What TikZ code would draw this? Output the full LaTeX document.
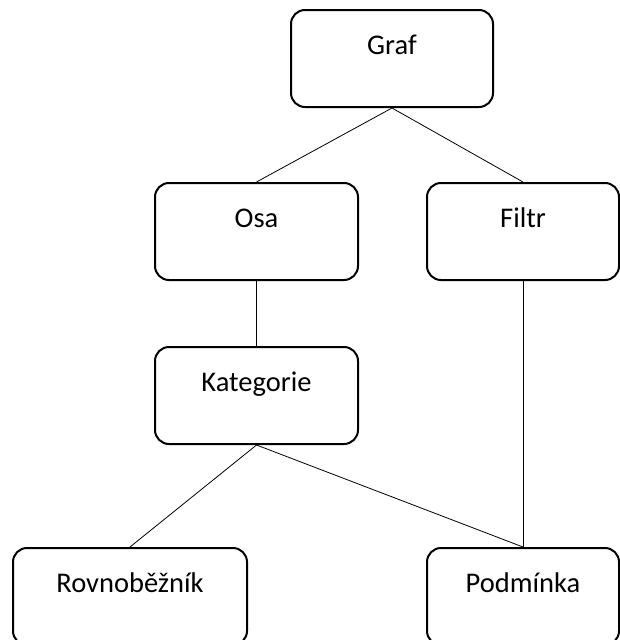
\documentclass[tikz,border=0pt]{standalone}
\usepackage{fontspec}
\setmainfont{Carlito}

\begin{document}
\begin{tikzpicture}[x=1pt, y=-1pt, font=\fontsize{28.5}{34}\selectfont,
	box/.style={draw, line width=2pt, rounded corners=14pt, anchor=north, inner sep=0pt, text height=44pt, text depth=53pt, minimum height=97pt},
	link/.style={line width=0.8pt}]
	\def\W{203}
	\def\w{192}

	\useasboundingbox (0,0) rectangle (620,640);

	\node[box, minimum width=202pt]	(graf) at (392,9) {Graf};
	\node[box, minimum width=\W pt]	(osa) at (256.5,182) {Osa};
	\node[box, minimum width=\w pt]	(filtr) at (523,182) {Filtr};
	\node[box, minimum width=\W pt]	(kat) at (256.5,346) {Kategorie};
	\node[box, minimum width=234pt]	(rovn) at (130,547) {Rovnoběžník};
	\node[box, minimum width=\w pt]	(podm) at (523,547) {Podmínka};

	\draw[link]	(graf.south) -- (osa.north);
	\draw[link]	(graf.south) -- (filtr.north);
	\draw[link]	(osa.south) -- (kat.north);
	\draw[link]	(kat.south) -- (rovn.north);
	\draw[link]	(kat.south) -- (podm.north);
	\draw[link]	(filtr.south) -- (podm.north);
\end{tikzpicture}
\end{document}
